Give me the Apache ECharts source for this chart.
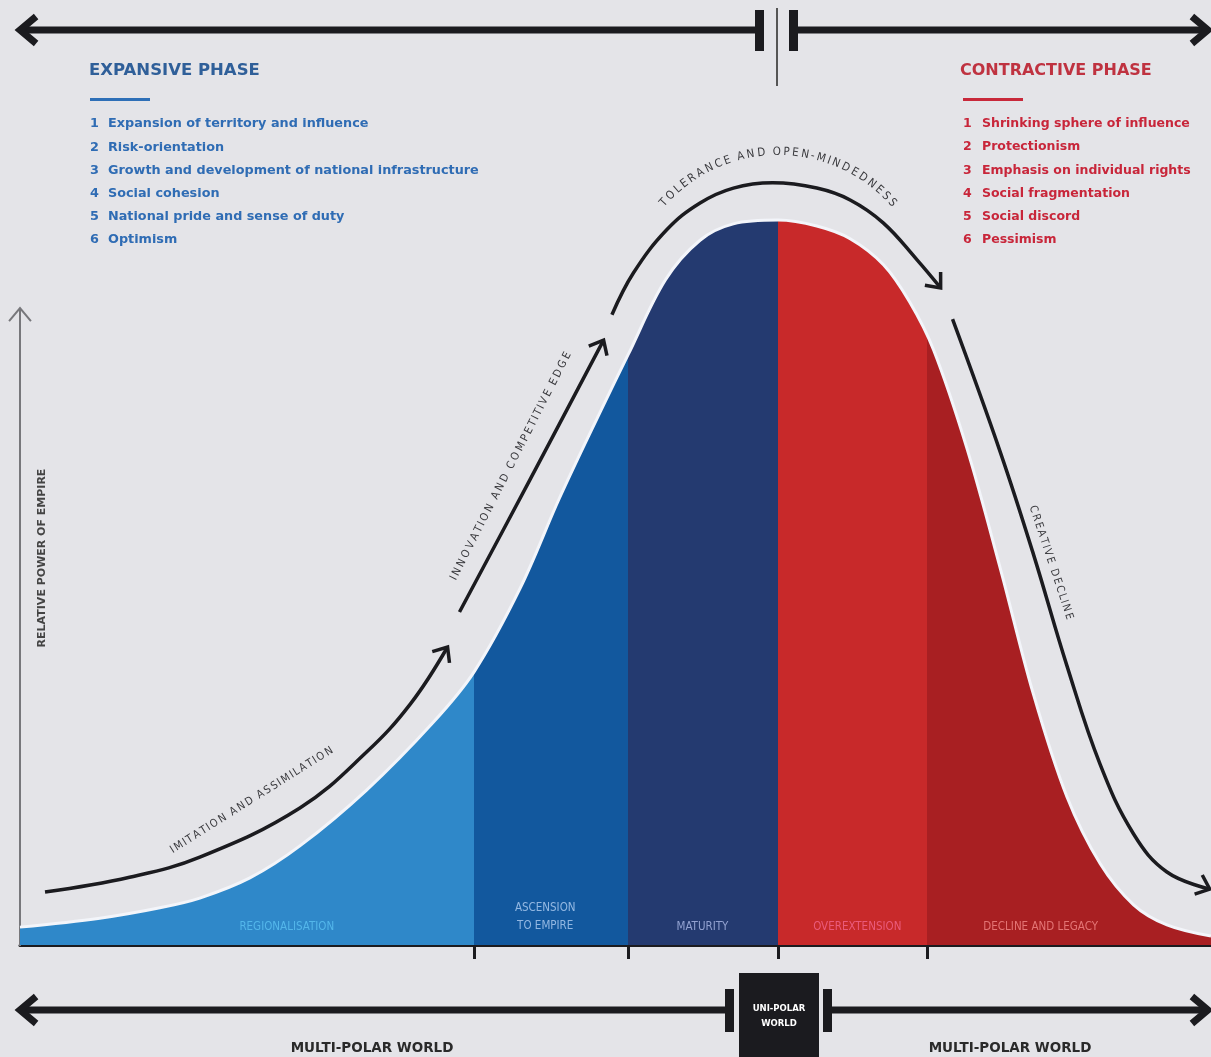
<!DOCTYPE html>
<html style="height: 100%">
<head>
    <meta charset="utf-8">
</head>
<body style="height: 100%; margin: 0; background-color: #e4e4e8;">
<div id="container" style="width: 1211px; height: 1057px"></div>
<script type="text/javascript" src="https://cdn.jsdelivr.net/npm/echarts@6/dist/echarts.min.js"></script>
<script type="text/javascript">
    // stages along the time axis (0 - 100)
    var stageNames = ['REGIONALISATION', 'ASCENSION\nTO EMPIRE', 'MATURITY', 'OVEREXTENSION', 'DECLINE AND LEGACY'];
    var stageBreaks = [38.1, 51.05, 63.65, 76.15];

    // relative power of empire over time
    var curveTime  = [0, 6.7, 11.75, 15.1, 19.3, 23.5, 29.1, 34.7, 38.1, 42.0, 45.3, 48.7, 51.05, 54.2, 57.1, 59.9, 63.65, 66.9, 69.7, 72.5, 74.7, 76.7, 79.5, 82.3, 85.1, 87.9, 90.7, 93.5, 96.3, 100];
    var curvePower = [2.4, 3.6, 5.0, 6.3, 9.0, 13.3, 20.8, 29.9, 36.6, 47.9, 60.0, 71.5, 79.2, 89.3, 94.6, 96.8, 97.3, 96.5, 94.8, 91.3, 86.3, 79.9, 66.7, 50.6, 33.6, 19.9, 10.9, 5.4, 2.7, 1.2];

    // the four arrows that follow the curve
    var imitationT  = [2.1, 9.2, 15.1, 23.5, 29.1, 32.8, 35.9];
    var imitationP  = [7.1, 9.1, 11.8, 18.4, 25.9, 32.4, 40.0];
    var innovationT = [36.9, 42.8, 49.0];
    var innovationP = [44.7, 62.4, 81.2];
    var toleranceT  = [49.7, 51.5, 54.3, 57.1, 59.9, 63.2, 66.9, 69.7, 72.5, 75.3, 77.3];
    var toleranceP  = [84.6, 90.2, 96.0, 99.6, 101.6, 102.3, 101.6, 100.0, 96.9, 92.0, 88.2];
    var declineT    = [78.3, 82.3, 85.1, 87.9, 90.7, 93.5, 96.3, 99.9];
    var declineP    = [84.0, 66.2, 52.4, 37.5, 24.2, 14.9, 9.8, 7.5];

    var expansiveList = ['Expansion of territory and influence', 'Risk-orientation', 'Growth and development of national infrastructure',
        'Social cohesion', 'National pride and sense of duty', 'Optimism'];
    var contractiveList = ['Shrinking sphere of influence', 'Protectionism', 'Emphasis on individual rights',
        'Social fragmentation', 'Social discord', 'Pessimism'];

    var DARK = '#1b1b1f';
    var NARROW = "'DejaVu Sans Condensed', 'Liberation Sans Narrow', 'Liberation Sans', sans-serif";
    var SANS = "'DejaVu Sans', 'Liberation Sans', sans-serif";
    var stageColors = ['#2f88c9', '#12589e', '#243a70', '#c8292a', '#a81f22'];
    var stageLabelColors = ['#5cc2f2', '#b3d0f2', '#aebbe8', '#f2678e', '#f28a8a'];
    var stageLabelAt = [22.4, 44.1, 57.3, 70.3, 85.7];

    function pairs(xs, ys) {
        return xs.map(function (x, i) { return [x, ys[i]]; });
    }

    var pieces = [];
    for (var i = 0; i < stageColors.length; i++) {
        var pc = {color: stageColors[i]};
        if (i > 0) pc.gte = stageBreaks[i - 1];
        if (i < stageBreaks.length) pc.lt = stageBreaks[i];
        pieces.push(pc);
    }

    function arrowSeries(xs, ys) {
        return {
            type: 'line', data: pairs(xs, ys), smooth: 0.4, showSymbol: false, silent: true,
            lineStyle: {color: DARK, width: 3.5}, z: 3
        };
    }

    var measureCtx = document.createElement('canvas').getContext('2d');

    // lays text out char by char, spread over a path given by posAt(0..1)
    function charsAlong(text, size, posAt) {
        measureCtx.font = size + 'px ' + NARROW;
        var ws = text.split('').map(function (c) { return measureCtx.measureText(c).width; });
        var total = ws.reduce(function (a, b) { return a + b; }, 0);
        var out = [], s = 0;
        for (var k = 0; k < text.length; k++) {
            var p = posAt((s + ws[k] / 2) / total);
            s += ws[k];
            if (text[k] === ' ') continue;
            out.push({
                type: 'text', x: p.x, y: p.y, rotation: p.rot, z: 10, silent: true,
                style: {text: text[k], fontSize: size, fontFamily: NARROW, fill: '#3a3a3e', align: 'center', verticalAlign: 'middle'}
            });
        }
        return out;
    }

    function straightText(text, size, x1, y1, x2, y2) {
        var rot = Math.atan2(-(y2 - y1), x2 - x1);
        return charsAlong(text, size, function (t) {
            return {x: x1 + (x2 - x1) * t, y: y1 + (y2 - y1) * t, rot: rot};
        });
    }

    function arcText(text, size, cx, cy, r, a1, a2) {
        return charsAlong(text, size, function (t) {
            var a = (a1 + (a2 - a1) * t) * Math.PI / 180;
            return {x: cx + r * Math.sin(a), y: cy - r * Math.cos(a), rot: -a};
        });
    }

    function chevron(tip, ang, len, w, color) {
        var spread = 40 * Math.PI / 180;
        return {
            type: 'polyline', z: 10, silent: true,
            shape: {points: [
                [tip[0] + len * Math.cos(ang + Math.PI - spread), tip[1] + len * Math.sin(ang + Math.PI - spread)],
                tip,
                [tip[0] + len * Math.cos(ang + Math.PI + spread), tip[1] + len * Math.sin(ang + Math.PI + spread)]
            ]},
            style: {stroke: color || DARK, lineWidth: w, fill: null, lineJoin: 'miter', lineCap: 'butt'}
        };
    }

    function hline(x1, x2, y, w) {
        return {type: 'line', z: 10, silent: true, shape: {x1: x1, y1: y, x2: x2, y2: y}, style: {stroke: DARK, lineWidth: w}};
    }
    function block(x, y, w, h) {
        return {type: 'rect', z: 10, silent: true, shape: {x: x, y: y, width: w, height: h}, style: {fill: DARK}};
    }
    function label(txt, x, y, opts) {
        var st = {text: txt, fontFamily: SANS, fontSize: 13, fontWeight: 'bold', fill: '#333', align: 'left', verticalAlign: 'middle'};
        for (var key in opts) st[key] = opts[key];
        return {type: 'text', x: x, y: y, z: 10, silent: true, style: st};
    }

    var graphics = [];
    // top timeline
    graphics.push(hline(22, 758, 30, 7), block(755, 10, 9, 41), block(789, 10, 9, 41), hline(798, 1206, 30, 7));
    graphics.push({type: 'line', z: 10, silent: true, shape: {x1: 777, y1: 8, x2: 777, y2: 86}, style: {stroke: '#555', lineWidth: 2}});
    graphics.push(chevron([20, 30], Math.PI, 21, 7), chevron([1208, 30], 0, 21, 7));
    // bottom timeline
    graphics.push(hline(22, 728, 1010, 7), block(725, 989, 9, 43), block(739, 973, 80, 90), block(823, 989, 9, 43), hline(832, 1206, 1010, 7));
    graphics.push(chevron([20, 1010], Math.PI, 21, 7), chevron([1208, 1010], 0, 21, 7));
    graphics.push(label('UNI-POLAR\nWORLD', 779, 1016, {fill: '#ffffff', fontSize: 8.5, align: 'center', lineHeight: 15}));
    graphics.push(label('MULTI-POLAR WORLD', 372, 1048, {fontSize: 13.5, align: 'center', fill: '#2a2a2a'}));
    graphics.push(label('MULTI-POLAR WORLD', 1010, 1048, {fontSize: 13.5, align: 'center', fill: '#2a2a2a'}));
    // vertical axis arrow and name
    graphics.push({type: 'line', z: 1, silent: true, shape: {x1: 20, y1: 946, x2: 20, y2: 309}, style: {stroke: '#77777b', lineWidth: 2}});
    graphics.push(chevron([20, 308], -Math.PI / 2, 17, 2, '#77777b'));
    graphics.push({type: 'text', x: 42, y: 558, rotation: Math.PI / 2, z: 10, silent: true,
        style: {text: 'RELATIVE POWER OF EMPIRE', fontFamily: SANS, fontSize: 11, fontWeight: 'bold', fill: '#444', align: 'center', verticalAlign: 'middle'}});

    // phase lists
    graphics.push(label('EXPANSIVE PHASE', 89, 71, {fontSize: 16.5, fill: '#2f5f99'}));
    graphics.push({type: 'rect', z: 10, silent: true, shape: {x: 90, y: 98, width: 60, height: 3}, style: {fill: '#2e6fb7'}});
    graphics.push(label('CONTRACTIVE PHASE', 960, 71, {fontSize: 16, fill: '#bf3240'}));
    graphics.push({type: 'rect', z: 10, silent: true, shape: {x: 963, y: 98, width: 60, height: 3}, style: {fill: '#c8283a'}});
    expansiveList.forEach(function (t, k) {
        graphics.push(label(String(k + 1), 90, 124 + k * 23.2, {fill: '#2f6cb4', fontSize: 12.8}));
        graphics.push(label(t, 108, 124 + k * 23.2, {fill: '#2f6cb4', fontSize: 12.8}));
    });
    contractiveList.forEach(function (t, k) {
        graphics.push(label(String(k + 1), 963, 124 + k * 23.2, {fill: '#c8263a', fontSize: 12.5}));
        graphics.push(label(t, 982, 124 + k * 23.2, {fill: '#c8263a', fontSize: 12.5}));
    });

    // words along the arrows
    graphics = graphics.concat(
        straightText('IMITATION AND ASSIMILATION', 11, 171, 851, 333, 749),
        straightText('INNOVATION AND COMPETITIVE EDGE', 11, 453, 580, 569, 352),
        straightText('CREATIVE DECLINE', 11, 1032, 505, 1070, 620),
        arcText('TOLERANCE AND OPEN-MINDEDNESS', 11.5, 778, 306, 154, -49.4, 49.5)
    );

    var dom = document.getElementById('container');
    var myChart = echarts.init(dom);

    var option = {
        backgroundColor: '#e4e4e8',
        animation: false,
        grid: {left: 20, right: 0, top: 51, bottom: 112},
        xAxis: {
            type: 'value', min: 0, max: 100,
            axisLine: {show: true, lineStyle: {color: DARK, width: 3}},
            axisTick: {show: true, customValues: stageBreaks, length: 14, lineStyle: {color: DARK, width: 3}},
            axisLabel: {show: false},
            splitLine: {show: false}
        },
        yAxis: {type: 'value', min: 0, max: 120, show: false},
        visualMap: {type: 'piecewise', show: false, dimension: 0, seriesIndex: 0, pieces: pieces},
        series: [
            {
                type: 'line', data: pairs(curveTime, curvePower), smooth: 0.35, showSymbol: false, silent: true,
                lineStyle: {color: '#f3f5fa', width: 3},
                areaStyle: {opacity: 1},
                z: 2
            },
            arrowSeries(imitationT, imitationP),
            arrowSeries(innovationT, innovationP),
            arrowSeries(toleranceT, toleranceP),
            arrowSeries(declineT, declineP),
            {
                type: 'scatter', symbolSize: 1, silent: true, z: 5,
                itemStyle: {color: 'rgba(0,0,0,0)'},
                data: stageNames.map(function (n, k) {
                    var twoLines = n.indexOf('\n') > 0;
                    return {
                        value: [stageLabelAt[k], 0], name: n,
                        label: {color: stageLabelColors[k], offset: [0, twoLines ? -28 : -18]}
                    };
                }),
                label: {show: true, position: 'inside', formatter: '{b}', fontSize: 11.5, fontFamily: NARROW, lineHeight: 18}
            }
        ],
        graphic: graphics
    };
    myChart.setOption(option);

    // arrowheads point along the last stretch of each arrow
    [[imitationT, imitationP], [innovationT, innovationP], [toleranceT, toleranceP], [declineT, declineP]].forEach(function (a) {
        var n = a[0].length;
        var p1 = myChart.convertToPixel({gridIndex: 0}, [a[0][n - 2], a[1][n - 2]]);
        var p2 = myChart.convertToPixel({gridIndex: 0}, [a[0][n - 1], a[1][n - 1]]);
        graphics.push(chevron(p2, Math.atan2(p2[1] - p1[1], p2[0] - p1[0]), 16, 3.5));
    });
    myChart.setOption({graphic: graphics});
</script>
</body>
</html>
